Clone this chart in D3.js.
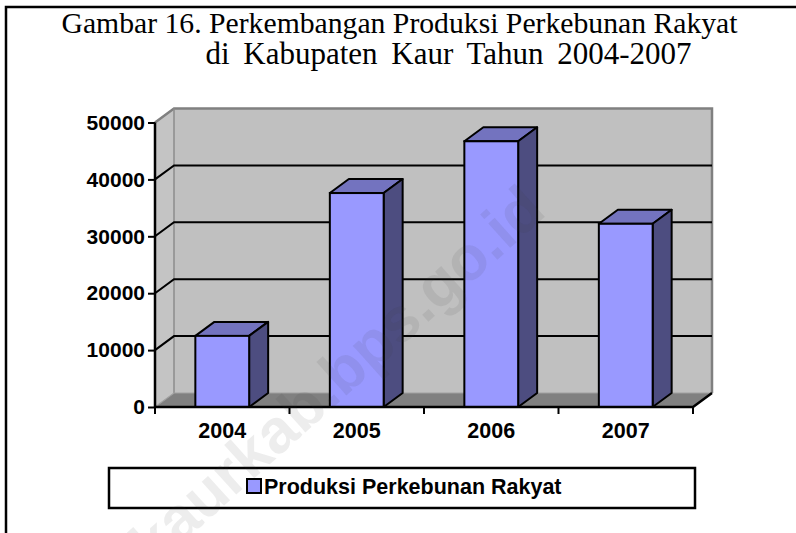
<!DOCTYPE html>
<html>
<head>
<meta charset="utf-8">
<script src="https://cdn.jsdelivr.net/npm/d3@7"></script>
<style>
  body { margin: 0; background: #fff; }
  svg { display: block; }
</style>
</head>
<body>
<svg width="796" height="533"></svg>
<script>
// DATA
var years = ["2004", "2005", "2006", "2007"];
var produksi = [12500, 37600, 46700, 32200];
var yTicks = [0, 10000, 20000, 30000, 40000, 50000];
var titleLines = ["Gambar 16. Perkembangan Produksi Perkebunan Rakyat",
                  "di Kabupaten Kaur Tahun 2004-2007"];
var seriesName = "Produksi Perkebunan Rakyat";

// SETUP
var svg = d3.select("svg"),
    sans = "Arial, 'Liberation Sans', sans-serif",
    serif = "'Times New Roman', 'Liberation Serif', serif",
    dx = 19, dy = -14,        // 3d depth offset
    pL = 155, pR = 693, pB = 407, pT = 122.5;

var x = d3.scaleBand().domain(years).range([pL, pR])
    .paddingInner(0.6).paddingOuter(0.3);
var xSlot = d3.scaleLinear().domain([0, years.length]).range([pL, pR]);
var y = d3.scaleLinear().domain([0, 50000]).range([pB, pT]);

// outer frame (top + left only)
svg.append("path")
    .attr("d", "M6,533 V7 H796")
    .attr("fill", "none").attr("stroke", "#000").attr("stroke-width", 2.5);

// title
svg.append("text")
    .attr("font-family", serif).attr("text-anchor", "middle")
    .selectAll("tspan").data(titleLines).enter().append("tspan")
    .attr("x", function (d, i) { return i == 0 ? 399.5 : 448.5; })
    .attr("y", function (d, i) { return i == 0 ? 33 : 64; })
    .attr("font-size", function (d, i) { return i == 0 ? 29.7 : 31; })
    .attr("word-spacing", function (d, i) { return i == 0 ? 0 : 6; })
    .text(function (d) { return d; });

var g = svg.append("g");

// WALLS
// back wall
g.append("rect")
    .attr("x", pL + dx).attr("y", pT + dy)
    .attr("width", pR - pL).attr("height", pB - pT)
    .attr("fill", "#c0c0c0");
// side wall
g.append("path")
    .attr("d", "M" + pL + "," + pB + " L" + pL + "," + pT +
         " L" + (pL + dx) + "," + (pT + dy) + " L" + (pL + dx) + "," + (pB + dy) + "Z")
    .attr("fill", "#c4c4c4");
// floor
g.append("path")
    .attr("d", "M" + pL + "," + pB + " L" + pR + "," + pB +
         " L" + (pR + dx) + "," + (pB + dy) + " L" + (pL + dx) + "," + (pB + dy) + "Z")
    .attr("fill", "#808080");
// wall borders
g.append("path")
    .attr("d", "M" + pL + "," + pT + " L" + (pL + dx) + "," + (pT + dy) +
         " H" + (pR + dx) + " V" + (pB + dy))
    .attr("fill", "none").attr("stroke", "#808080").attr("stroke-width", 2.5);
g.append("path")
    .attr("d", "M" + (pL + dx) + "," + (pT + dy) + " V" + (pB + dy))
    .attr("fill", "none").attr("stroke", "#8c8c8c").attr("stroke-width", 1.5);
g.append("path")
    .attr("d", "M" + pL + "," + pB + " L" + (pL + dx) + "," + (pB + dy) +
         " H" + (pR + dx))
    .attr("fill", "none").attr("stroke", "#a0a0a0").attr("stroke-width", 1.2);

// gridlines (back wall + side wall diagonals)
var grid = yTicks.filter(function (v) { return v > 0 && v < 50000; });
g.selectAll(".grid").data(grid).enter().append("path")
    .attr("class", "grid")
    .attr("d", function (v) {
        return "M" + pL + "," + y(v) + " L" + (pL + dx) + "," + (y(v) + dy) +
            " H" + (pR + dx);
    })
    .attr("fill", "none").attr("stroke", "#000").attr("stroke-width", 2);

// BARS
var bars = g.selectAll(".bar").data(years).enter().append("g").attr("class", "bar");
bars.append("path")   // top
    .attr("d", function (d, i) {
        var x0 = x(d), x1 = x(d) + x.bandwidth(), yt = y(produksi[i]);
        return "M" + x0 + "," + yt + " L" + (x0 + dx) + "," + (yt + dy) +
            " L" + (x1 + dx) + "," + (yt + dy) + " L" + x1 + "," + yt + "Z";
    })
    .attr("fill", "#7373bf").attr("stroke", "#000").attr("stroke-width", 2)
    .attr("stroke-linejoin", "round");
bars.append("path")   // side
    .attr("d", function (d, i) {
        var x1 = x(d) + x.bandwidth(), yt = y(produksi[i]);
        return "M" + x1 + "," + yt + " L" + (x1 + dx) + "," + (yt + dy) +
            " L" + (x1 + dx) + "," + (pB + dy) + " L" + x1 + "," + pB + "Z";
    })
    .attr("fill", "#4d4d80").attr("stroke", "#000").attr("stroke-width", 2)
    .attr("stroke-linejoin", "round");
bars.append("rect")   // front
    .attr("x", function (d) { return x(d); })
    .attr("y", function (d, i) { return y(produksi[i]); })
    .attr("width", x.bandwidth())
    .attr("height", function (d, i) { return pB - y(produksi[i]); })
    .attr("fill", "#9999ff").attr("stroke", "#000").attr("stroke-width", 2);

// AXES
var yAxis = g.append("g")
    .attr("transform", "translate(" + pL + ",0)")
    .call(d3.axisLeft(y).tickValues(yTicks).tickSize(7).tickPadding(3)
          .tickFormat(d3.format("d")));
yAxis.select(".domain").attr("stroke-width", 2.5).attr("d", "M0," + pT + "V" + pB);
yAxis.selectAll(".tick line").attr("stroke-width", 2);
yAxis.selectAll("text")
    .attr("font-family", sans).attr("font-size", 21).attr("font-weight", "bold")
    .attr("fill", "#000");

var xAxis = g.append("g")
    .attr("transform", "translate(0," + pB + ")");
xAxis.append("path")
    .attr("d", "M" + pL + ",0 H" + pR + " L" + (pR + dx) + "," + dy)
    .attr("fill", "none").attr("stroke", "#000").attr("stroke-width", 2.5);
xAxis.selectAll(".xtick").data(d3.range(years.length + 1)).enter().append("line")
    .attr("class", "xtick")
    .attr("x1", function (i) { return xSlot(i); }).attr("x2", function (i) { return xSlot(i); })
    .attr("y1", 0).attr("y2", 7)
    .attr("stroke", "#000").attr("stroke-width", 2);
xAxis.selectAll(".xlabel").data(years).enter().append("text")
    .attr("class", "xlabel")
    .attr("x", function (d) { return x(d) + x.bandwidth() / 2; })
    .attr("y", 31)
    .attr("text-anchor", "middle")
    .attr("font-family", sans).attr("font-size", 21.5).attr("font-weight", "bold")
    .text(function (d) { return d; });

// LEGEND
var legend = svg.append("g");
legend.append("rect")
    .attr("x", 109).attr("y", 468).attr("width", 586).attr("height", 40)
    .attr("fill", "#fff").attr("stroke", "#000").attr("stroke-width", 2.5);
legend.append("rect")
    .attr("x", 247).attr("y", 479).attr("width", 14).attr("height", 14)
    .attr("fill", "#9999ff").attr("stroke", "#000").attr("stroke-width", 2);
legend.append("text")
    .attr("x", 264).attr("y", 494)
    .attr("font-family", sans).attr("font-size", 21.5).attr("font-weight", "bold")
    .text(seriesName);

// watermark
svg.append("text")
    .attr("transform", "translate(548,214) rotate(-42)")
    .attr("text-anchor", "end")
    .attr("font-family", sans).attr("font-size", 62).attr("font-weight", "bold")
    .attr("fill", "#333").attr("fill-opacity", 0.09)
    .text("kaurkab.bps.go.id");
</script>
</body>
</html>
